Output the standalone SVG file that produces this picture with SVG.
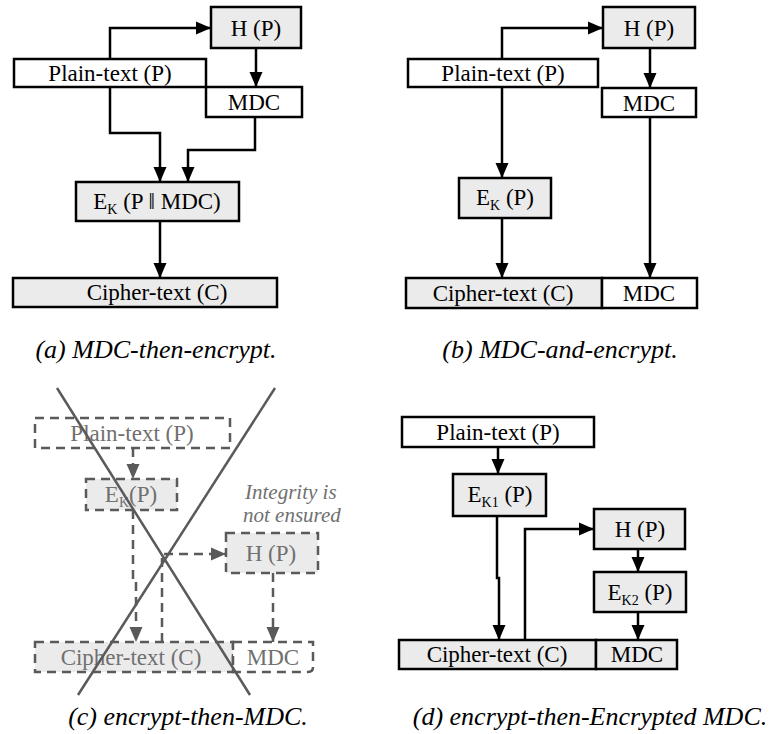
<svg xmlns="http://www.w3.org/2000/svg" width="771" height="734" viewBox="0 0 771 734" font-family="'Liberation Serif', 'DejaVu Serif', serif">
<style>
.bx{stroke:#000;stroke-width:2.5;}
.g{fill:#ebebeb;}
.w{fill:#fff;}
text{font-family:'Liberation Serif','DejaVu Serif',serif;}
.t{font-size:23px;fill:#000;text-anchor:middle;}
.sub{font-size:14px;}
.cap{font-size:26px;font-style:italic;fill:#000;text-anchor:middle;}
.c{fill:none;stroke:#000;stroke-width:2.5;}
.dbx{stroke:#5a5a5a;stroke-width:2.5;stroke-dasharray:9,6;}
.dt{font-size:23px;fill:#707070;text-anchor:middle;}
.dc{fill:none;stroke:#5a5a5a;stroke-width:2.5;stroke-dasharray:9,6;}
.note{font-size:21px;font-style:italic;fill:#707070;}
.x{stroke:#5a5a5a;stroke-width:2.5;fill:none;}
</style>
<defs>
<marker id="ah" markerUnits="userSpaceOnUse" markerWidth="15" markerHeight="14" viewBox="0 0 15 14" refX="15" refY="7" orient="auto">
<path d="M0,0.5 L15,7 L0,13.5 z" fill="#000"/>
</marker>
<marker id="ahg" markerUnits="userSpaceOnUse" markerWidth="15" markerHeight="14" viewBox="0 0 15 14" refX="15" refY="7" orient="auto">
<path d="M0,0.5 L15,7 L0,13.5 z" fill="#5a5a5a"/>
</marker>
</defs>

<g id="connectors">
<path class="c" d="M110,59 V28 H211" marker-end="url(#ah)"/>
<path class="c" d="M256,48 V87" marker-end="url(#ah)"/>
<path class="c" d="M110,87 V133 H160 V182" marker-end="url(#ah)"/>
<path class="c" d="M255,117 V150 H188 V182" marker-end="url(#ah)"/>
<path class="c" d="M160,221 V278" marker-end="url(#ah)"/>
<path class="c" d="M502,59 V28 H603" marker-end="url(#ah)"/>
<path class="c" d="M650,48 V88" marker-end="url(#ah)"/>
<path class="c" d="M502,87 V178" marker-end="url(#ah)"/>
<path class="c" d="M502,218 V278" marker-end="url(#ah)"/>
<path class="c" d="M650,117 V278" marker-end="url(#ah)"/>
<path class="dc" d="M133,448 V479" marker-end="url(#ahg)"/>
<path class="dc" d="M133,510 V580 H136 V642" marker-end="url(#ahg)"/>
<path class="dc" d="M162,642 V554 H226" marker-end="url(#ahg)"/>
<path class="dc" d="M273,573 V642" marker-end="url(#ahg)"/>
<path class="c" d="M498,447 V474" marker-end="url(#ah)"/>
<path class="c" d="M497,516 V578 H499 V640" marker-end="url(#ah)"/>
<path class="c" d="M525,640 V529 H594" marker-end="url(#ah)"/>
<path class="c" d="M638,549 V572" marker-end="url(#ah)"/>
<path class="c" d="M638,612 V640" marker-end="url(#ah)"/>
</g>

<g id="a-hp"><rect class="bx g" x="211" y="7" width="90" height="41"/><text class="t" x="256" y="36">H (P)</text></g>
<g id="a-plain"><rect class="bx w" x="14" y="59" width="192" height="28"/><text class="t" x="110" y="81">Plain-text (P)</text></g>
<g id="a-mdc"><rect class="bx w" x="206" y="87" width="96" height="30"/><text class="t" x="254" y="110">MDC</text></g>
<g id="a-enc"><rect class="bx g" x="76" y="182" width="163" height="39"/><text class="t" x="157" y="209">E<tspan class="sub" dy="5">K</tspan><tspan dy="-5"> (P ‖ MDC)</tspan></text></g>
<g id="a-cipher"><rect class="bx g" x="13" y="278" width="264" height="29"/><text class="t" x="157" y="300">Cipher-text (C)</text></g>
<text id="cap-a" class="cap" x="156" y="358">(a) MDC-then-encrypt.</text>

<g id="b-hp"><rect class="bx g" x="603" y="7" width="92" height="41"/><text class="t" x="649" y="36">H (P)</text></g>
<g id="b-plain"><rect class="bx w" x="408" y="59" width="190" height="28"/><text class="t" x="503" y="81">Plain-text (P)</text></g>
<g id="b-mdc"><rect class="bx w" x="602" y="88" width="94" height="29"/><text class="t" x="649" y="111">MDC</text></g>
<g id="b-enc"><rect class="bx g" x="459" y="178" width="92" height="40"/><text class="t" x="505" y="205">E<tspan class="sub" dy="5">K</tspan><tspan dy="-5"> (P)</tspan></text></g>
<g id="b-cipher"><rect class="bx g" x="406" y="278" width="196" height="30"/><text class="t" x="503" y="301">Cipher-text (C)</text></g>
<g id="b-cmdc"><rect class="bx w" x="602" y="278" width="95" height="30"/><text class="t" x="649" y="301">MDC</text></g>
<text id="cap-b" class="cap" x="560" y="358">(b) MDC-and-encrypt.</text>

<g id="c-plain"><rect class="dbx w" x="35" y="418" width="195" height="30"/><text class="dt" x="132" y="441">Plain-text (P)</text></g>
<g id="c-enc"><rect class="dbx g" x="86" y="479" width="91" height="31"/><text class="dt" x="131" y="502">E<tspan class="sub" dy="5">K</tspan><tspan dy="-5">(P)</tspan></text></g>
<g id="c-hp"><rect class="dbx g" x="226" y="533" width="92" height="40"/><text class="dt" x="271" y="561">H (P)</text></g>
<g id="c-cipher"><rect class="dbx g" x="35" y="642" width="198" height="30"/><text class="dt" x="131" y="665">Cipher-text (C)</text></g>
<g id="c-cmdc"><path class="dbx w" d="M233,642 H313 V667 Q313,672 308,672 H233 Z"/><text class="dt" x="273" y="665">MDC</text></g>
<text class="note" x="245" y="499">Integrity is</text>
<text class="note" x="243" y="522">not ensured</text>
<path class="x" d="M57,388 L250,695"/>
<path class="x" d="M275,388 L78,695"/>
<text id="cap-c" class="cap" x="188" y="725">(c) encrypt-then-MDC.</text>

<g id="d-plain"><rect class="bx w" x="402" y="417" width="192" height="30"/><text class="t" x="498" y="440">Plain-text (P)</text></g>
<g id="d-enc1"><rect class="bx g" x="453" y="474" width="93" height="42"/><text class="t" x="500" y="502">E<tspan class="sub" dy="5">K1</tspan><tspan dy="-5"> (P)</tspan></text></g>
<g id="d-hp"><rect class="bx g" x="594" y="509" width="91" height="40"/><text class="t" x="640" y="537">H (P)</text></g>
<g id="d-enc2"><rect class="bx g" x="594" y="572" width="92" height="40"/><text class="t" x="640" y="600">E<tspan class="sub" dy="5">K2</tspan><tspan dy="-5"> (P)</tspan></text></g>
<g id="d-cipher"><rect class="bx g" x="399" y="640" width="197" height="29"/><text class="t" x="497" y="662">Cipher-text (C)</text></g>
<g id="d-cmdc"><rect class="bx g" x="596" y="640" width="81" height="29"/><text class="t" x="637" y="662">MDC</text></g>
<text id="cap-d" class="cap" x="590" y="725">(d) encrypt-then-Encrypted MDC.</text>
</svg>
